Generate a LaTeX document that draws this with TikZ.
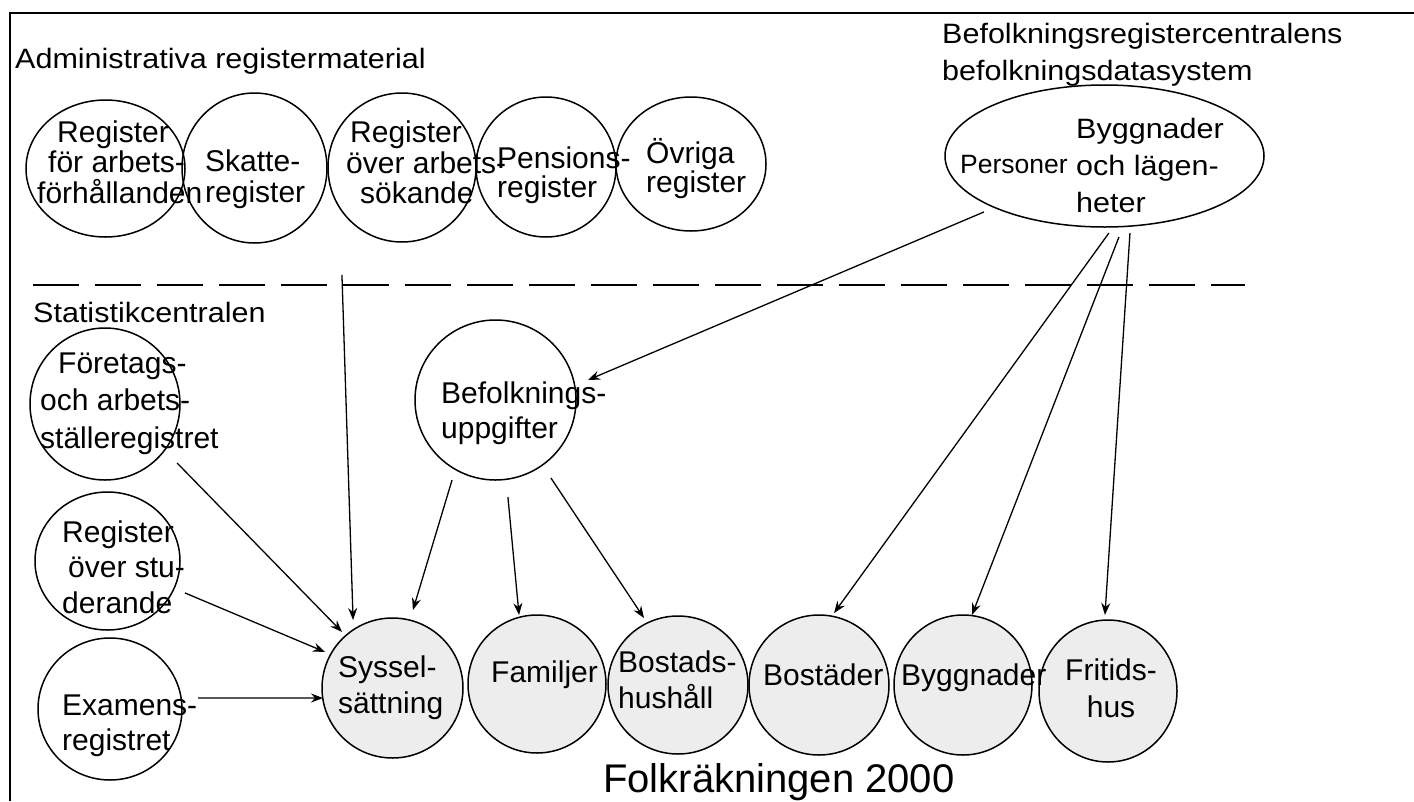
\documentclass[tikz,border=0pt]{standalone}
\usepackage{fontspec}
\setmainfont{Liberation Sans}
\newfontfamily\hfont{Liberation Sans}[FakeStretch=1.09]
\usetikzlibrary{shapes.geometric,arrows.meta,calc}
\tikzset{
 reg/.style={ellipse, draw, line width=1.5pt, inner sep=0pt},
 res/.style={reg, fill=black!7},
 lab/.style={anchor=base west, align=left, inner sep=0pt, font=\fontsize{30}{30.5}\selectfont},
 labc/.style={lab, anchor=base, align=center},
 head/.style={anchor=base west, align=left, inner sep=0pt, font=\hfont\fontsize{28}{37}\selectfont},
 arr/.style={-{Stealth[length=12pt,width=9pt,inset=4pt]}, line width=1.3pt},
}
\begin{document}
\begin{tikzpicture}[x=1pt,y=-1pt]
\useasboundingbox (0,0) rectangle (1414,801);
\fill[white] (0,0) rectangle (1414,801);
\draw[line width=2pt] (1414,13) -- (10,13) -- (10,801);
\draw[line width=1.5pt, dash pattern=on 46pt off 16pt] (33,285) -- (1245,285);

% top registers
\node[reg, minimum width=159pt, minimum height=137pt] (r1) at (105.5,168.5) {};
\node[reg, minimum width=145pt, minimum height=150pt] (r2) at (254.5,168) {};
\node[reg, minimum width=148pt, minimum height=149pt] (r3) at (402,167.5) {};
\node[reg, minimum width=140pt, minimum height=140pt] (r4) at (546,167) {};
\node[reg, minimum width=150pt, minimum height=134pt] (r5) at (691,164) {};
\node[reg, minimum width=319pt, minimum height=142pt] (pop) at (1104.5,156) {};

% Statistikcentralen
\node[reg, minimum width=150pt, minimum height=152pt] (fore) at (105,404) {};
\node[reg, minimum width=145pt, minimum height=138pt] (stud) at (107.5,561) {};
\node[reg, minimum width=144pt, minimum height=142pt] (exam) at (110,709) {};
\node[reg, minimum width=161pt, minimum height=160pt] (befu) at (495.5,400) {};

% results
\node[res, minimum width=141pt, minimum height=140pt] (syss) at (392.5,688) {};
\node[res, minimum width=138pt, minimum height=138pt] (fam) at (537,684) {};
\node[res, minimum width=140pt, minimum height=138pt] (bhh) at (678,685) {};
\node[res, minimum width=140pt, minimum height=140pt] (bost) at (819,685) {};
\node[res, minimum width=138pt, minimum height=140pt] (bygg) at (963,685) {};
\node[res, minimum width=138pt, minimum height=142pt] (frit) at (1108,691) {};

% labels (base anchor = baseline of the last line)
\node[lab] (t1) at (37,203) {\hspace*{20pt}Register\\\hspace*{11pt}för arbets-\\förhållanden};
\node[lab] (t2) at (205,202) {Skatte-\\register};
\node[lab] (t3) at (346,203.5) {\hspace*{4pt}Register\\över arbets-\\\hspace*{14pt}sökande};
\node[lab, font=\fontsize{30}{29.5}\selectfont] (t4) at (497,197.5) {Pensions-\\register};
\node[lab, font=\fontsize{30}{29}\selectfont] (t5) at (646,192) {Övriga\\register};
\node[lab, font=\fontsize{30}{37.5}\selectfont] (t6) at (40,448) {\hspace*{18pt}Företags-\\och arbets-\\ställeregistret};
\node[lab, font=\fontsize{30}{35.5}\selectfont] (t7) at (62,613) {Register\\\hspace*{6pt}över stu-\\derande};
\node[lab, font=\fontsize{30}{35}\selectfont] (t8) at (62,750) {Examens-\\registret};
\node[lab, font=\fontsize{30}{35}\selectfont] (t9) at (441,438) {Befolknings-\\uppgifter};
\node[lab, font=\fontsize{30}{36}\selectfont] (t10) at (338,713) {Syssel-\\sättning};
\node[lab] (t11) at (491,682) {Familjer};
\node[lab, font=\fontsize{30}{36}\selectfont] (t12) at (618,708) {Bostads-\\hushåll};
\node[lab] (t13) at (763,685) {Bostäder};
\node[lab] (t14) at (901,685) {Byggnader};
\node[labc, font=\fontsize{30}{37}\selectfont] (t15) at (1111,717) {Fritids-\\hus};
\node[lab, font=\fontsize{26.5}{30}\selectfont] (t16) at (960,173) {Personer};
\node[head] (t17) at (1076,212) {Byggnader\\och lägen-\\heter};

\node[head] (h1) at (15,68) {Administrativa registermaterial};
\node[head] (h2) at (942,80) {Befolkningsregistercentralens\\befolkningsdatasystem};
\node[head] (h3) at (33,322) {Statistikcentralen};
\node[anchor=base west, inner sep=0pt, font=\fontsize{40}{48}\selectfont] (h4) at (603,792) {Folkräkningen 2000};

% connectors
\draw[arr] ($(r3)+(119.2:123.1)$) -- ($(syss)+(-120.1:78.6)$);
\draw[arr] ($(fore)+(39.3:93.1)$) -- ($(syss)+(-132:75.4)$);
\draw[arr] ($(stud)+(22.4:83.8)$) -- ($(syss)+(-151.9:76.5)$);
\draw[arr] ($(exam)+(-7.1:88.7)$) -- ($(syss)+(171.8:70.2)$);
\draw[arr] ($(befu)+(118.5:91.1)$) -- ($(syss)+(-75.3:80.6)$);
\draw[arr] ($(befu)+(82.7:97.8)$) -- ($(fam)+(-104.6:71.3)$);
\draw[arr] ($(befu)+(54.6:95.7)$) -- ($(bhh)+(-116.9:75.1)$);
\draw[arr] ($(pop)+(155.1:132.9)$) -- ($(befu)+(-12.2:94.6)$);
\draw[arr] ($(pop)+(86.7:77.1)$) -- ($(bost)+(-78.2:73.5)$);
\draw[arr] ($(pop)+(79.9:82.3)$) -- ($(bygg)+(-82.7:70.6)$);
\draw[arr] ($(pop)+(71.7:81.1)$) -- ($(frit)+(-92.3:76.1)$);
\end{tikzpicture}
\end{document}
